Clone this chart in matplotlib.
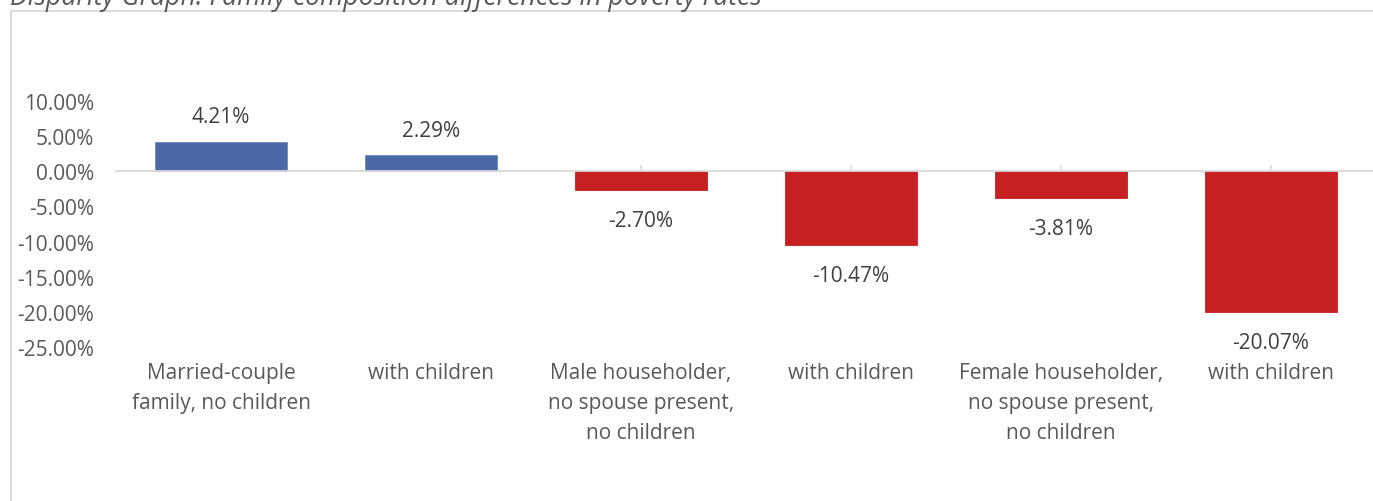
import matplotlib
matplotlib.use("Agg")
import matplotlib.pyplot as plt
from matplotlib.patches import Rectangle
from matplotlib.ticker import FuncFormatter

plt.rcParams['font.family'] = ['Open Sans', 'DejaVu Sans']

categories = [
    "Married-couple\nfamily, no children",
    "with children",
    "Male householder,\nno spouse present,\nno children",
    "with children",
    "Female householder,\nno spouse present,\nno children",
    "with children",
]
disparity = [4.21, 2.29, -2.70, -10.47, -3.81, -20.07]
title = "Disparity Graph: Family composition differences in poverty rates"

blue = "#4a69a6"
red = "#c62023"
grey_text = "#595959"
label_text = "#404040"
rule = "#d9d9d9"

W, H = 1373, 502
fig = plt.figure(figsize=(W / 100, H / 100), dpi=100)

# chart frame, running off the right and bottom edges
fig.add_artist(Rectangle((11 / W, -0.2), 1.2, 1.2 - 12 / H,
                         transform=fig.transFigure, fill=False,
                         edgecolor=rule, lw=1.3))
fig.text(10 / W, 1 - 5.5 / H, title, fontsize=19.2, style='italic',
         color=grey_text, ha='left', va='baseline')

ax = fig.add_axes([116 / W, (H - 348) / H, 1260 / W, 246 / H])
x = range(len(categories))
colors = [blue if v >= 0 else red for v in disparity]
ax.bar(x, disparity, width=0.63, color=colors, zorder=2,
       edgecolor=[("#7088bb" if v >= 0 else red) for v in disparity], lw=0.6)

ax.set_xlim(-0.5, len(categories) - 0.5)
ax.set_ylim(-25, 10)
ax.set_yticks(range(-25, 11, 5))
ax.yaxis.set_major_formatter(FuncFormatter(lambda v, p: f"{v:.2f}%"))
ax.tick_params(axis='y', length=0, pad=16, labelsize=15, labelcolor=grey_text)

for s in ['top', 'right', 'left']:
    ax.spines[s].set_visible(False)
ax.spines['bottom'].set_position(('data', 0))
ax.spines['bottom'].set_color(rule)
ax.spines['bottom'].set_linewidth(1.3)
ax.spines['bottom'].set_zorder(3)
ax.set_xticks(list(x))
ax.set_xticklabels([])
ax.tick_params(axis='x', direction='in', length=4, width=1.2, color=rule)

for i, (cat, v) in enumerate(zip(categories, disparity)):
    ax.annotate(cat, xy=(i, 0), xycoords=('data', 'axes fraction'),
                xytext=(0, -11), textcoords='offset points',
                ha='center', va='top', fontsize=15, color=grey_text,
                linespacing=1.56)
    off = 18 if v >= 0 else -22
    ax.annotate(f"{v:.2f}%", xy=(i, v), xytext=(0, off),
                textcoords='offset points', ha='center', va='center',
                fontsize=15, color=label_text)

fig.savefig("out.png", dpi=100)
